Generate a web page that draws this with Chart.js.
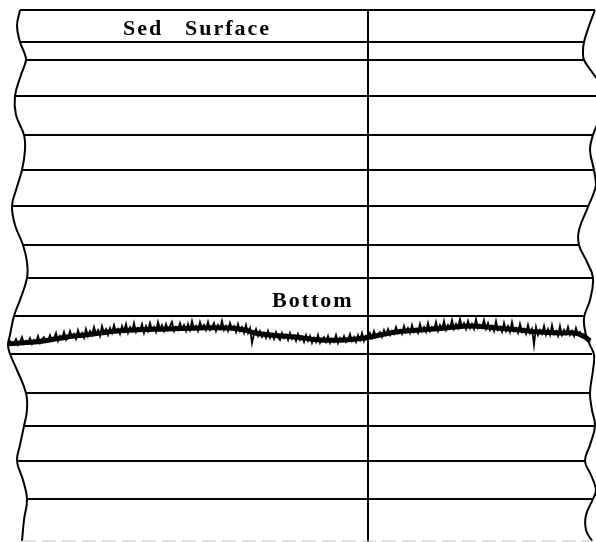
<!DOCTYPE html>
<html>
<head>
<meta charset="utf-8">
<script src="https://cdn.jsdelivr.net/npm/chart.js@4/dist/chart.umd.min.js"></script>
<style>
html,body{margin:0;padding:0;background:#fff;}
#wrap{width:596px;height:542px;}
</style>
</head>
<body>
<div id="wrap"><canvas id="c" width="596" height="542"></canvas></div>
<script>
// Horizontal layer boundaries: depth (y) and left/right extents (x)
const hLineY  = [10, 42, 60, 96, 135, 170, 206, 245, 278, 316, 354, 393, 426, 461, 499];
const hLineX0 = [20, 20, 26, 14, 25, 22, 12, 22, 27, 14, 10, 26, 25, 17, 27];
const hLineX1 = [595, 584, 583, 596, 593, 594, 588, 579, 593, 584, 592, 590, 595, 585, 593];
const bottomEdgeY = 541, bottomEdgeX0 = 22, bottomEdgeX1 = 592;

// Vertical divider
const vLineX = 368, vLineTop = 10, vLineBottom = 542;

// Wavy left border (y -> x)
const leftBorderY = [10, 26, 42, 52, 60, 75, 96, 115, 135, 150, 170, 190, 206, 225, 245, 262, 278, 300, 316, 335, 345, 354, 370, 393, 410, 426, 445, 461, 480, 499, 520, 541];
const leftBorderX = [20, 17, 20, 24, 26, 21, 15, 16, 24, 25, 22, 16, 12, 15, 23, 27, 27, 20, 14, 10, 8, 10, 17, 26, 27, 24, 20, 17, 23, 27, 24, 22];

// Wavy right border (y -> x)
const rightBorderY = [10, 26, 42, 52, 60, 72, 85, 110, 135, 150, 170, 185, 207, 230, 245, 262, 278, 300, 318, 335, 345, 355, 370, 393, 410, 426, 445, 461, 475, 490, 499, 515, 530, 541];
const rightBorderX = [595, 589, 584, 583, 584, 592, 600, 602, 593, 590, 594, 596, 588, 579, 579, 587, 593, 590, 584, 586, 590, 594, 593, 590, 592, 595, 590, 585, 591, 596, 593, 586, 586, 592];

// Bottom echo trace: samples every 2 px starting at x = 8
const traceStartX = 8, traceStepX = 2;
const traceY = [
345,341,344,343,339,345,342,337,344,341,
343,338,344,340,342,336,343,339,337,342,
341,335,340,338,333,341,336,339,332,340,
338,331,337,334,339,330,336,333,338,329,
336,331,335,327,334,330,336,326,333,329,
335,328,333,325,332,329,334,326,331,324,
333,327,331,323,332,328,330,324,333,326,
331,323,330,327,332,322,329,325,331,324,
330,326,322,331,327,330,323,329,325,331,
324,330,321,329,326,331,322,328,325,330,
322,330,327,323,331,325,329,321,330,326,
331,323,329,326,332,324,331,327,333,325,
333,328,343,334,329,336,331,337,333,338,
331,338,334,339,332,337,340,333,338,335,
340,333,339,336,341,334,340,337,342,335,
341,336,343,338,342,335,343,339,337,342,
336,343,339,342,335,343,338,341,336,342,
340,334,341,337,342,335,340,333,341,336,
339,333,338,331,337,334,332,337,330,335,
329,335,331,334,327,333,330,334,326,332,
328,333,325,332,329,333,324,331,327,332,
323,331,327,330,322,331,325,329,321,330,
325,328,320,329,324,328,319,327,323,329,
321,328,324,329,319,328,325,327,320,329,
323,330,326,331,321,330,327,332,323,331,
326,332,322,331,328,333,324,332,329,334,
325,333,329,345,327,335,330,334,326,335,
329,335,325,334,331,336,326,335,330,334,
327,335,331,336,328,334,332,337,335,338,
340,342
];
// Smoothed centre of the trace band (x -> y)
const traceBaseX = [8, 20, 35, 50, 67, 85, 100, 117, 133, 167, 200, 230, 245, 255, 270, 295, 320, 345, 365, 380, 396, 420, 446, 470, 496, 520, 540, 560, 575, 585, 590];
const traceBaseY = [344, 343, 342, 340, 337, 335, 333, 331, 330, 329, 328, 328, 330, 333, 335, 337, 340, 340, 338, 335, 332, 330, 328, 326, 328, 330, 332, 333, 333, 337, 341];

// Text labels
const labelText = ['Sed', 'Surface', 'Bottom'];
const labelX = [123, 185, 272];
const labelY = [35, 35, 307];

const black = '#000';
const datasets = [];

hLineY.forEach((y, i) => {
  datasets.push({
    data: [{x: hLineX0[i], y: y}, {x: hLineX1[i], y: y}],
    borderColor: black, borderWidth: 2, pointRadius: 0, tension: 0
  });
});
datasets.push({
  data: [{x: bottomEdgeX0, y: bottomEdgeY}, {x: bottomEdgeX1, y: bottomEdgeY}],
  borderColor: '#c8c8c8', borderWidth: 1, pointRadius: 0, borderDash: [14, 6]
});
datasets.push({
  data: [{x: vLineX, y: vLineTop}, {x: vLineX, y: vLineBottom}],
  borderColor: black, borderWidth: 2, pointRadius: 0
});
datasets.push({
  data: leftBorderY.map((y, i) => ({x: leftBorderX[i], y: y})),
  borderColor: black, borderWidth: 2, pointRadius: 0, tension: 0.4
});
datasets.push({
  data: rightBorderY.map((y, i) => ({x: rightBorderX[i], y: y})),
  borderColor: black, borderWidth: 2, pointRadius: 0, tension: 0.4
});
datasets.push({
  data: traceBaseX.map((x, i) => ({x: x, y: traceBaseY[i]})),
  borderColor: black, borderWidth: 5, pointRadius: 0, tension: 0.4
});
datasets.push({
  data: traceY.map((y, i) => ({x: traceStartX + i * traceStepX, y: y})),
  borderColor: black, borderWidth: 1.8, pointRadius: 0, tension: 0
});

const labelPlugin = {
  id: 'labels',
  afterDatasetsDraw(chart) {
    const ctx = chart.ctx;
    const xs = chart.scales.x, ys = chart.scales.y;
    ctx.save();
    ctx.fillStyle = black;
    ctx.font = 'bold 22px "Liberation Serif", "DejaVu Serif", serif';
    ctx.textBaseline = 'alphabetic';
    ctx.textAlign = 'left';
    try { ctx.letterSpacing = '2px'; } catch (e) {}
    labelText.forEach((t, i) => {
      ctx.fillText(t, xs.getPixelForValue(labelX[i]), ys.getPixelForValue(labelY[i]));
    });
    ctx.restore();
  }
};

new Chart(document.getElementById('c'), {
  type: 'line',
  data: { datasets: datasets },
  options: {
    responsive: false,
    animation: false,
    events: [],
    layout: { padding: 0 },
    plugins: { legend: { display: false }, tooltip: { enabled: false } },
    scales: {
      x: { type: 'linear', min: 0, max: 596, display: false },
      y: { type: 'linear', min: 0, max: 542, reverse: true, display: false }
    }
  },
  plugins: [labelPlugin]
});
</script>
</body>
</html>
